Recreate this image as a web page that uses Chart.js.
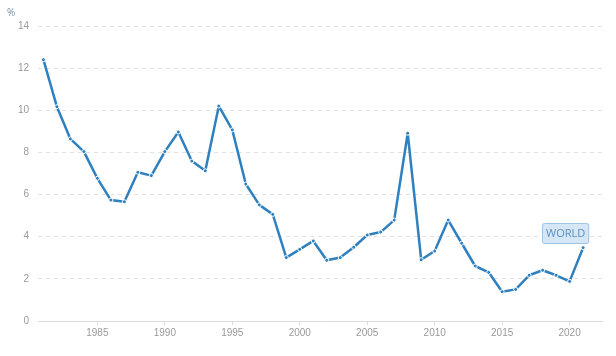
<!DOCTYPE html>
<html lang="en">
<head>
  <meta charset="UTF-8">
  <title>World - %</title>
  <script src="https://cdn.jsdelivr.net/npm/chart.js"></script>
  <style>
    body {
      margin: 0;
      background: #ffffff;
      font-family: "Open Sans", Arial, sans-serif;
    }
    #wrap {
      position: relative;
      width: 616px;
      height: 356px;
    }
    #unit {
      position: absolute;
      left: 7px;
      top: 5px;
      font-size: 10px;
      color: #7a93a8;
    }
  </style>
</head>
<body>
  <div id="wrap">
    <canvas id="worldChart" width="616" height="356"></canvas>
    <div id="unit">%</div>
  </div>

  <script>
    const years = [1981, 1982, 1983, 1984, 1985, 1986, 1987, 1988, 1989, 1990,
      1991, 1992, 1993, 1994, 1995, 1996, 1997, 1998, 1999, 2000,
      2001, 2002, 2003, 2004, 2005, 2006, 2007, 2008, 2009, 2010,
      2011, 2012, 2013, 2014, 2015, 2016, 2017, 2018, 2019, 2020, 2021];
    const worldValues = [12.40, 10.17, 8.64, 8.04, 6.77, 5.74, 5.66, 7.06, 6.90, 8.04,
      8.97, 7.59, 7.13, 10.20, 9.07, 6.50, 5.51, 5.06, 3.01, 3.40,
      3.80, 2.88, 3.01, 3.50, 4.08, 4.22, 4.79, 8.91, 2.91, 3.32,
      4.79, 3.69, 2.61, 2.31, 1.39, 1.50, 2.17, 2.41, 2.17, 1.88, 3.48];
    const xTickYears = [1985, 1990, 1995, 2000, 2005, 2010, 2015, 2020];
    const seriesName = 'WORLD';

    const lineColor = '#2f80bf';

    // label box next to the last point
    const endLabel = {
      id: 'endLabel',
      afterDatasetsDraw(chart) {
        const pts = chart.getDatasetMeta(0).data;
        const p = pts[pts.length - 1];
        const c = chart.ctx;
        c.save();
        c.font = '11px "Open Sans", Arial, sans-serif';
        const w = c.measureText(seriesName).width + 7;
        const h = 20;
        const cx = p.x - 18;
        const bottom = p.y - 5;
        const x0 = Math.round(cx - w / 2), y0 = Math.round(bottom - h);
        c.beginPath();
        c.roundRect(x0 + 0.5, y0 + 0.5, w, h, 2);
        c.fillStyle = '#d5e6f4';
        c.fill();
        c.strokeStyle = '#9fc3e3';
        c.lineWidth = 1;
        c.stroke();
        c.fillStyle = '#5d8fbf';
        c.textAlign = 'center';
        c.textBaseline = 'middle';
        c.fillText(seriesName, x0 + w / 2 + 0.5, y0 + h / 2 + 1);
        c.restore();
      }
    };

    new Chart(document.getElementById('worldChart'), {
      type: 'line',
      data: {
        datasets: [{
          label: seriesName,
          data: years.map((y, i) => ({ x: y, y: worldValues[i] })),
          borderColor: lineColor,
          borderWidth: 2.5,
          borderJoinStyle: 'round',
          pointRadius: 2,
          pointBackgroundColor: lineColor,
          pointBorderColor: '#ffffff',
          pointBorderWidth: 1,
          tension: 0
        }]
      },
      options: {
        responsive: false,
        animation: false,
        layout: { padding: { left: 0, right: 14, top: 26, bottom: 0 } },
        plugins: {
          legend: { display: false },
          tooltip: { enabled: false }
        },
        scales: {
          x: {
            type: 'linear',
            min: 1980.6,
            max: 2022.4,
            afterBuildTicks: axis => { axis.ticks = xTickYears.map(v => ({ value: v })); },
            afterFit: axis => { axis.height = 35; },
            ticks: {
              color: '#9a9a9a',
              font: { size: 10 },
              padding: 2,
              maxRotation: 0,
              callback: v => String(v)
            },
            grid: {
              drawOnChartArea: false,
              drawTicks: true,
              tickLength: 4,
              color: '#dddddd'
            },
            border: { color: '#dddddd', width: 1 }
          },
          y: {
            min: 0,
            max: 14,
            afterFit: axis => { axis.width = 38; },
            ticks: {
              stepSize: 2,
              color: '#9a9a9a',
              font: { size: 10 },
              padding: 9
            },
            grid: {
              drawTicks: false,
              color: ctx => ctx.tick.value === 0 ? 'rgba(0,0,0,0)' : '#e2e2e2'
            },
            border: { display: false, dash: [4, 4] }
          }
        }
      },
      plugins: [endLabel]
    });
  </script>
</body>
</html>
